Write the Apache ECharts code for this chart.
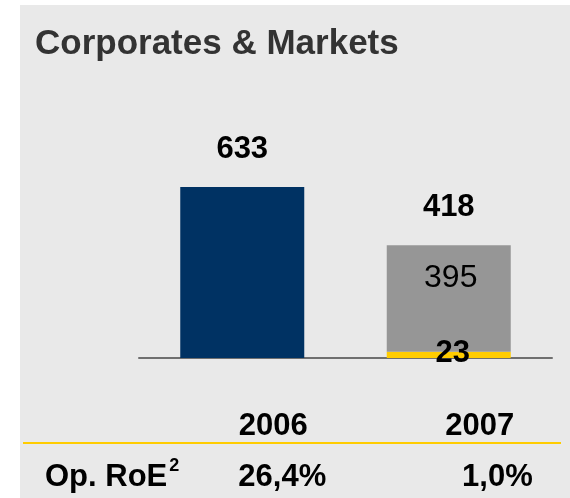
<!DOCTYPE html>
<html>
<head>
<meta charset="utf-8">
<script src="https://cdn.jsdelivr.net/npm/echarts@6/dist/echarts.min.js"></script>
<style>
  html, body { margin: 0; padding: 0; background: #fff; }
  #chart { width: 570px; height: 498px; }
</style>
</head>
<body>
<div id="chart"></div>
<script>
const categories = ['2006', '2007']
const navyValues = [633, '-']
const yellowValues = ['-', 23]
const grayValues = ['-', 395]
const totals = [633, 418]
const roeLabel = 'Op. RoE'
const roeValues = ['26,4%', '1,0%']

const font = "'Liberation Sans', Arial, sans-serif"
const chart = echarts.init(document.getElementById('chart'))

const option = {
    backgroundColor: '#fff',
    animation: false,
    textStyle: { fontFamily: font },
    grid: { left: 139, right: 18, top: 88, bottom: 140 },
    xAxis: {
        type: 'category',
        data: categories,
        axisTick: { show: false },
        axisLine: { lineStyle: { color: '#6f6f6f', width: 2 } },
        axisLabel: {
            margin: 53,
            padding: [0, 0, 0, 62],
            color: '#000',
            fontWeight: 'bold',
            fontSize: 31,
            fontFamily: font
        }
    },
    yAxis: {
        type: 'value',
        min: 0,
        max: 1000,
        show: false,
        splitLine: { show: false }
    },
    series: [
        {
            type: 'bar',
            stack: 'a',
            barWidth: 124,
            data: navyValues,
            itemStyle: { color: '#003263' }
        },
        {
            type: 'bar',
            stack: 'a',
            barWidth: 124,
            data: yellowValues,
            itemStyle: { color: '#ffcc00' },
            label: {
                show: true,
                position: 'inside',
                offset: [4, -1],
                color: '#000',
                fontWeight: 'bold',
                fontSize: 31,
                fontFamily: font
            }
        },
        {
            type: 'bar',
            stack: 'a',
            barWidth: 124,
            data: grayValues,
            itemStyle: { color: '#969696' },
            label: {
                show: true,
                position: 'insideTop',
                distance: 17,
                offset: [2, 0],
                color: '#000',
                fontSize: 32,
                fontFamily: font
            }
        },
        {
            // zero-height bar on top of the stack, carries the totals
            type: 'bar',
            stack: 'a',
            barWidth: 124,
            data: [0, 0],
            itemStyle: { color: 'transparent' },
            label: {
                show: true,
                position: 'top',
                distance: 22,
                color: '#000',
                fontWeight: 'bold',
                fontSize: 31,
                fontFamily: font,
                formatter: (p) => String(totals[p.dataIndex])
            }
        }
    ]
}
chart.setOption(option)

// background panel, title, divider and the RoE row
const graphics = [
    {
        type: 'rect',
        z: -10,
        silent: true,
        shape: { x: 20, y: 5, width: 550, height: 493 },
        style: { fill: '#e9e9e9' }
    },
    {
        type: 'text',
        left: 35,
        top: 27,
        style: {
            text: 'Corporates & Markets',
            fill: '#333',
            font: 'bold 35px ' + font
        }
    },
    {
        type: 'line',
        shape: { x1: 23, y1: 443, x2: 561, y2: 443 },
        style: { stroke: '#ffcc00', lineWidth: 2 }
    },
    {
        type: 'text',
        x: 45,
        y: 477,
        style: {
            text: '{m|' + roeLabel + '}{s|2}',
            verticalAlign: 'middle',
            rich: {
                m: { font: 'bold 31px ' + font, fill: '#000' },
                s: { font: 'bold 18px ' + font, fill: '#000', verticalAlign: 'top', padding: [0, 0, 22, 2] }
            }
        }
    }
]
categories.forEach((c, i) => {
    const px = chart.convertToPixel({ xAxisIndex: 0 }, c)
    graphics.push({
        type: 'text',
        x: px + 84,
        y: 477,
        style: {
            text: roeValues[i],
            align: 'right',
            verticalAlign: 'middle',
            fill: '#000',
            font: 'bold 31px ' + font
        }
    })
})
chart.setOption({ graphic: graphics })
</script>
</body>
</html>
